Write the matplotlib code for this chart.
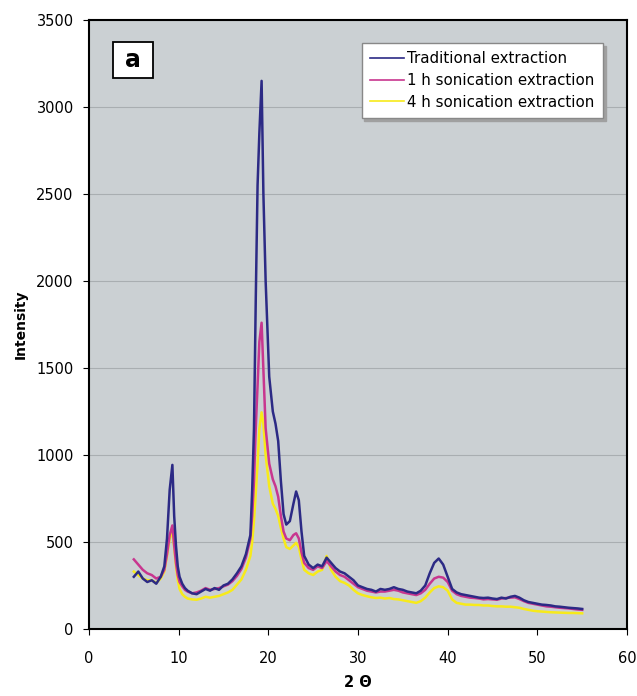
import matplotlib
matplotlib.use('Agg')
import matplotlib.pyplot as plt
from matplotlib.patches import Rectangle

# 2-theta positions shared by the three scans
two_theta = [
    5.0, 5.5, 6.0, 6.5, 7.0, 7.5, 8.0, 8.4, 8.7, 9.0,
    9.3, 9.5, 9.7, 9.9, 10.1, 10.4, 10.7, 11.0, 11.5, 12.0,
    12.5, 13.0, 13.5, 14.0, 14.5, 15.0, 15.5, 16.0, 16.5, 17.0,
    17.5, 18.0, 18.2, 18.4, 18.6, 18.8, 19.0, 19.25, 19.45, 19.7,
    20.1, 20.5, 20.8, 21.1, 21.4, 21.7, 22.0, 22.4, 22.8, 23.1,
    23.4, 23.7, 24.0, 24.5, 25.0, 25.5, 26.0, 26.5, 27.0, 27.5,
    28.0, 28.5, 29.0, 29.5, 30.0, 30.5, 31.0, 31.5, 32.0, 32.5,
    33.0, 33.5, 34.0, 34.5, 35.0, 35.5, 36.0, 36.5, 37.0, 37.5,
    38.0, 38.5, 39.0, 39.5, 40.0, 40.5, 41.0, 41.5, 42.0, 42.5,
    43.0, 43.5, 44.0, 44.5, 45.0, 45.5, 46.0, 46.5, 47.0, 47.5,
    48.0, 48.5, 49.0, 49.5, 50.0, 50.5, 51.0, 51.5, 52.0, 52.5,
    53.0, 53.5, 54.0, 54.5, 55.0,
]

traditional = [
    300, 330, 290, 270, 280, 260, 300, 360, 520, 800,
    943, 650, 480, 360, 300, 260, 235, 220, 205, 200,
    215, 230, 220, 235, 225, 250, 260, 285, 320, 360,
    430, 540, 800, 1150, 1900, 2550, 2850, 3150, 2500, 2000,
    1450, 1250, 1180, 1080, 850, 660, 600, 620, 720, 790,
    740, 560, 420, 370, 350, 370, 360, 410, 380, 350,
    330, 320, 300, 280, 250, 240, 230, 225, 215, 230,
    225, 230, 240, 230, 225, 215, 210, 205, 220, 250,
    320, 380, 405, 370, 300, 230, 210, 200, 195, 190,
    185, 180, 178, 180, 175, 172, 180, 175, 185, 190,
    180, 165, 155, 150, 145, 140, 138, 135, 130, 128,
    125, 122, 120, 118, 115,
]

sonic_1h = [
    400, 370, 340, 320, 310, 290, 300, 340, 430, 540,
    595, 480, 380, 310, 270, 245, 225, 215, 205, 210,
    220, 235, 225, 230, 235, 245, 255, 275, 305, 345,
    410, 520, 650, 850, 1155, 1400, 1650, 1760, 1489, 1155,
    950, 860, 820, 760, 650, 560, 520, 510, 540, 550,
    520, 440, 380, 350, 340, 360, 350, 390, 360, 330,
    310, 300, 280, 260, 240, 230, 220, 215, 210, 215,
    215, 220, 225, 220, 210, 205, 200, 195, 205, 225,
    260, 290, 300, 295, 270, 220, 200, 190, 185, 180,
    178, 175, 170, 172, 170, 168, 175, 178, 180, 182,
    172, 160, 150, 145, 140, 135, 130, 128, 125, 122,
    120, 118, 115, 112, 110,
]

sonic_4h = [
    330, 310, 290, 280, 280, 265, 290, 330, 420, 520,
    560, 470, 360, 280, 230, 200, 185, 175, 170, 168,
    175, 185, 180, 185, 190, 200, 210, 225, 255, 285,
    340, 420, 500, 620, 780, 950, 1150, 1245, 1180, 1000,
    820, 720, 690, 650, 580, 520, 470, 460, 480, 495,
    470, 400, 340, 320, 310, 330, 340, 420, 340, 300,
    275, 265, 250, 225, 205, 195, 188, 182, 178, 180,
    175, 178, 172, 170, 165, 160, 155, 150, 160, 180,
    210, 235, 245, 240, 220, 170, 150, 145, 140, 140,
    138, 138, 135, 135, 132, 130, 130, 128, 128, 125,
    122, 115, 110, 105, 102, 100, 98, 96, 95, 94,
    93, 92, 92, 91, 90,
]

labels = ['Traditional extraction', '1 h sonication extraction', '4 h sonication extraction']
colors = ['#2c2a85', '#c8368f', '#f7ea1a']

fig = plt.figure(figsize=(6.37, 6.96), dpi=100)
ax = fig.add_axes([0.1397, 0.0963, 0.8446, 0.875])
ax.set_facecolor('#cbd0d3')

# navy on top, yellow underneath, like the original
ax.plot(two_theta, traditional, color=colors[0], lw=1.8, label=labels[0], zorder=4)
ax.plot(two_theta, sonic_1h, color=colors[1], lw=1.8, label=labels[1], zorder=3)
ax.plot(two_theta, sonic_4h, color=colors[2], lw=1.8, label=labels[2], zorder=2)

ax.set_xlim(0, 60)
ax.set_ylim(0, 3500)
ax.set_xticks(range(0, 61, 10))
ax.set_yticks(range(0, 3501, 500))
ax.yaxis.grid(True, color='#a9aeb1', lw=0.8)
ax.set_axisbelow(True)
for s in ax.spines.values():
    s.set_color('black')
    s.set_linewidth(1.5)
ax.tick_params(labelsize=10.5, length=4, width=0.8, direction='out')
ax.tick_params(axis='x', pad=12)
ax.tick_params(axis='y', pad=7)

ax.set_ylabel('Intensity', fontsize=10, fontweight='bold', labelpad=6)
ax.set_xlabel('2 Θ', fontsize=10.5, fontweight='bold', labelpad=6)

leg = ax.legend(loc='upper right', bbox_to_anchor=(0.9554, 0.9622), fontsize=10.8,
                frameon=True, fancybox=False, shadow={'color': '#a0a0a0', 'alpha': 1},
                handlelength=2.3, handletextpad=0.2, borderpad=0.55, labelspacing=0.45,
                borderaxespad=0)
leg.get_frame().set_edgecolor('#888888')
leg.get_frame().set_facecolor('white')
leg.get_frame().set_alpha(1)
for h in leg.get_lines():
    h.set_linewidth(1.2)

# panel tag "a" in a framed white box
ax.add_patch(Rectangle((0.0446, 0.9048), 0.0744, 0.0591, transform=ax.transAxes,
                       facecolor='white', edgecolor='black', lw=1.3, zorder=5))
ax.text(0.0818, 0.9343, 'a', transform=ax.transAxes, fontsize=17, fontweight='bold',
        ha='center', va='center', zorder=6)

fig.savefig('out.png', dpi=100)
